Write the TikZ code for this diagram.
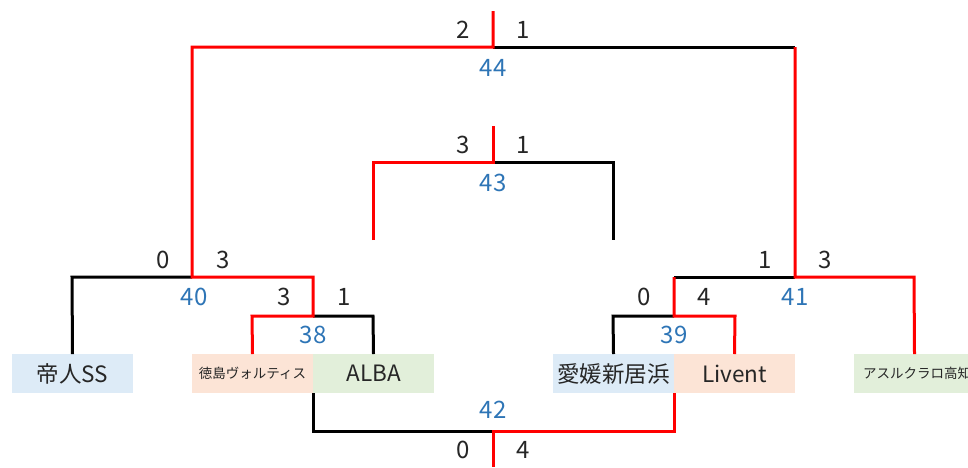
\documentclass[tikz,border=0pt]{standalone}
\usepackage{fontspec}
\setmainfont{Noto Sans CJK JP}
\definecolor{numblue}{HTML}{2E75B6}
\definecolor{fillblue}{HTML}{DDEBF7}
\definecolor{fillorange}{HTML}{FCE4D6}
\definecolor{fillgreen}{HTML}{E2EFDA}
\begin{document}
\begin{tikzpicture}[x=1pt,y=-1pt,
  win/.style={draw=red,line width=3pt},
  lose/.style={draw=black,line width=3pt},
  score/.style={inner sep=0pt,text=black!85,font=\fontsize{24}{24}\selectfont},
  matchno/.style={inner sep=0pt,text=numblue,font=\fontsize{24}{24}\selectfont},
  team/.style={minimum width=121pt,minimum height=39pt,inner sep=0pt,outer sep=0pt,text=black!85,font=\fontsize{22.5}{22.5}\selectfont},
  smallteam/.style={team,font=\fontsize{13.5}{13.5}\selectfont}]
\useasboundingbox (0,0) rectangle (968,467);
\clip (0,0) rectangle (968,467);
% teams
\node[team,fill=fillblue] (t1) at (72.5,373.5) {帝人SS};
\node[smallteam,fill=fillorange] (t2) at (252.5,373.5) {徳島ヴォルティス};
\node[team,fill=fillgreen] (t3) at (373.5,373.5) {ALBA};
\node[team,fill=fillblue] (t4) at (613.5,373.5) {愛媛新居浜};
\node[team,fill=fillorange] (t5) at (734.5,373.5) {Livent};
\node[smallteam,fill=fillgreen,text width=121pt,align=left] (t6) at (914.5,373.5) {\hspace*{9pt}アスルクラロ高知};
% corners
\coordinate (a38l) at (252,316);
\coordinate (a38m) at (313,316);
\coordinate (a38r) at (373,316);
\coordinate (a40l) at (72,277);
\coordinate (a40m) at (192,277);
\coordinate (a40r) at (313,277);
\coordinate (a39l) at (613,316);
\coordinate (a39m) at (674,316);
\coordinate (a39r) at (735,316);
\coordinate (a41l) at (674,277);
\coordinate (a41m) at (795,277);
\coordinate (a41r) at (914,277);
\coordinate (a44l) at (192,47);
\coordinate (a44m) at (493,47);
\coordinate (a44r) at (795,47);
\coordinate (a44t) at (493,11);
\coordinate (a43l) at (373,162);
\coordinate (a43m) at (493,162);
\coordinate (a43r) at (613,162);
\coordinate (a43t) at (493,126);
\coordinate (a43lb) at (373,240);
\coordinate (a43rb) at (613,240);
\coordinate (a42l) at (313,431);
\coordinate (a42m) at (493,431);
\coordinate (a42r) at (674,431);
\coordinate (a42b) at (493,467);
% losing lines
\draw[lose] (t1.north) -- (a40l) -- (a40m);
\draw[lose] (t3.north) -- (a38r) -- (a38m);
\draw[lose] (a44m) -- (a44r);
\draw[lose] (a43m) -- (a43r) -- (a43rb);
\draw[lose] (t4.north) -- (a39l) -- (a39m);
\draw[lose] (a41l) -- (a41m);
\draw[lose] (t3.south west) -- (a42l) -- (a42m);
% winning lines
\draw[win] (t2.north) -- (a38l) -- (a38m) -- (a40r) -- (a40m) -- (a44l) -- (a44m) -- (a44t);
\draw[win] (t5.north) -- (a39r) -- (a39m) -- (a41l);
\draw[win] (t6.north) -- (a41r) -- (a41m) -- (a44r);
\draw[win] (a43lb) -- (a43l) -- (a43m) -- (a43t);
\draw[win] (t5.south west) -- (a42r) -- (a42m) -- (a42b);
% scores
\node[score] (s44l) at (463,30) {2};
\node[score] (s44r) at (523,30) {1};
\node[matchno] (m44) at (493,68) {44};
\node[score] (s43l) at (463,145) {3};
\node[score] (s43r) at (523,145) {1};
\node[matchno] (m43) at (493,183) {43};
\node[score] (s40l) at (163,260) {0};
\node[score] (s40r) at (223,260) {3};
\node[score] (s41l) at (765,260) {1};
\node[score] (s41r) at (825,260) {3};
\node[matchno] (m40) at (194,297) {40};
\node[score] (s38l) at (284,297) {3};
\node[score] (s38r) at (344,297) {1};
\node[score] (s39l) at (644,297) {0};
\node[score] (s39r) at (704,297) {4};
\node[matchno] (m41) at (795,297) {41};
\node[matchno] (m38) at (313,335) {38};
\node[matchno] (m39) at (674,335) {39};
\node[matchno] (m42) at (493,410) {42};
\node[score] (s42l) at (463,450) {0};
\node[score] (s42r) at (523,450) {4};
\end{tikzpicture}
\end{document}
